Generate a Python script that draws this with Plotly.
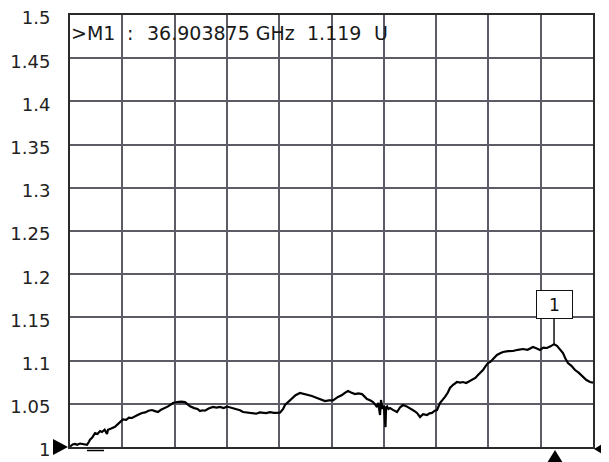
import plotly.graph_objects as go

# ---- data ----
freq_ghz = [
    29.500, 29.540, 29.576, 29.610, 29.653, 29.700, 29.760, 29.790, 29.806, 29.840,
    29.882, 29.920, 29.960, 29.989, 30.030, 30.066, 30.081, 30.130, 30.188, 30.240,
    30.280, 30.311, 30.360, 30.400, 30.448, 30.500, 30.550, 30.601, 30.650, 30.700,
    30.754, 30.800, 30.846, 30.900, 30.953, 31.000, 31.040, 31.076,
    31.137, 31.200, 31.259, 31.300, 31.336, 31.400, 31.450, 31.489, 31.530, 31.565,
    31.620, 31.687, 31.740, 31.794, 31.850, 31.902, 31.960, 32.010, 32.054, 32.100,
    32.146, 32.200, 32.250, 32.299, 32.350, 32.400, 32.452, 32.500, 32.559, 32.620,
    32.712,
    32.760, 32.789, 32.840, 32.896, 32.950, 33.018, 33.080, 33.141, 33.200, 33.278,
    33.340, 33.401, 33.460, 33.523, 33.600, 33.661, 33.710, 33.752, 33.800, 33.859,
    33.910, 33.966, 34.010, 34.043, 34.090, 34.135, 34.170, 34.196, 34.215, 34.230,
    34.242, 34.257, 34.280, 34.300, 34.318, 34.326, 34.334, 34.350, 34.370, 34.395,
    34.440, 34.502, 34.550, 34.594, 34.650, 34.701, 34.760, 34.808, 34.854, 34.900,
    34.961, 35.000, 35.037, 35.080, 35.114, 35.159, 35.200, 35.236, 35.280, 35.312,
    35.360, 35.419, 35.470, 35.511, 35.560, 35.588, 35.620, 35.664, 35.700, 35.741,
    35.780, 35.817, 35.860, 35.894, 35.930, 35.955, 36.000, 36.031, 36.080, 36.123,
    36.200, 36.276, 36.350, 36.429, 36.500, 36.582, 36.640, 36.689, 36.740, 36.796,
    36.850, 36.904, 36.949, 37.000, 37.041, 37.080, 37.117, 37.170, 37.225, 37.280,
    37.347, 37.400, 37.454, 37.500,
]
swr = [
    1.0005, 1.0030, 1.0035, 1.0025, 1.0040, 1.0030, 1.0025, 1.0060, 1.0085, 1.0110,
    1.0160, 1.0150, 1.0185, 1.0174, 1.0200, 1.0150, 1.0200, 1.0215, 1.0235, 1.0270,
    1.0300, 1.0320, 1.0315, 1.0340, 1.0336, 1.0360, 1.0375, 1.0394, 1.0400, 1.0420,
    1.0428, 1.0415, 1.0405, 1.0435, 1.0451, 1.0470, 1.0490, 1.0509,
    1.0521, 1.0525, 1.0520, 1.0490, 1.0470, 1.0450, 1.0440, 1.0415, 1.0425, 1.0420,
    1.0445, 1.0463, 1.0455, 1.0463, 1.0450, 1.0468, 1.0455, 1.0450, 1.0440, 1.0425,
    1.0405, 1.0400, 1.0394, 1.0392, 1.0385, 1.0400, 1.0394, 1.0392, 1.0403, 1.0395,
    1.0398,
    1.0440, 1.0486, 1.0520, 1.0556, 1.0600, 1.0625, 1.0615, 1.0602, 1.0590, 1.0567,
    1.0550, 1.0532, 1.0540, 1.0540, 1.0580, 1.0602, 1.0630, 1.0648, 1.0630, 1.0613,
    1.0620, 1.0613, 1.0580, 1.0556, 1.0540, 1.0521, 1.0490, 1.0463, 1.0510, 1.0420,
    1.0370, 1.0544, 1.0440, 1.0480, 1.0300, 1.0230, 1.0460, 1.0470, 1.0440, 1.0451,
    1.0430, 1.0405, 1.0460, 1.0486, 1.0470, 1.0451, 1.0420, 1.0394, 1.0347, 1.0380,
    1.0370, 1.0390, 1.0394, 1.0420, 1.0428, 1.0509, 1.0540, 1.0579, 1.0630, 1.0683,
    1.0720, 1.0752, 1.0745, 1.0752, 1.0740, 1.0752, 1.0765, 1.0775, 1.0800, 1.0833,
    1.0860, 1.0891, 1.0940, 1.0972, 1.0985, 1.1007, 1.1040, 1.1065, 1.1085, 1.1100,
    1.1110, 1.1111, 1.1125, 1.1134, 1.1125, 1.1157, 1.1140, 1.1123, 1.1150, 1.1146,
    1.1165, 1.1190, 1.1170, 1.1120, 1.1088, 1.1020, 1.0972, 1.0940, 1.0891, 1.0860,
    1.0810, 1.0775, 1.0752, 1.0745,
]

x_start, x_stop = 29.5, 37.5
y_ticks = [1.0, 1.05, 1.1, 1.15, 1.2, 1.25, 1.3, 1.35, 1.4, 1.45, 1.5]
y_tick_text = ["1", "1.05", "1.1", "1.15", "1.2", "1.25", "1.3", "1.35", "1.4", "1.45", "1.5"]
marker_freq = 36.903875
marker_val = 1.119
marker_label = "1"
readout_parts = [">M1", ":", "36.903875 GHz", "1.119", "U"]

# ---- figure (page body has an 8px margin, so the figure starts at 8,8) ----
OFF = 8
W, H = 609 - OFF, 462 - OFF
L, R, T, B = 70 - OFF, 609 - 593, 15 - OFF, 462 - 447
pw, ph = W - L - R, H - T - B

def px_x(p):  # screenshot pixel -> paper fraction
    return (p - OFF - L) / pw

def px_y(p):
    return (H - B - (p - OFF)) / ph

fig = go.Figure()
fig.add_trace(go.Scatter(
    x=freq_ghz, y=swr, mode="lines",
    line=dict(color="#000000", width=2.2),
    hoverinfo="skip", showlegend=False,
))

fig.update_layout(
    width=W, height=H,
    margin=dict(l=L, r=R, t=T, b=B, pad=0, autoexpand=False),
    paper_bgcolor="white", plot_bgcolor="white",
    showlegend=False,
    font=dict(family="DejaVu Sans", color="#222222"),
)
fig.update_xaxes(
    range=[x_start, x_stop], tick0=x_start, dtick=(x_stop - x_start) / 10,
    showticklabels=False, ticks="", showgrid=True, gridcolor="#5c5c66", gridwidth=1.6,
    showline=True, mirror=True, linecolor="#2a2a2a", linewidth=2, zeroline=False,
    automargin=False,
)
fig.update_yaxes(
    range=[1.0, 1.5], tickvals=y_ticks, ticktext=y_tick_text,
    showgrid=True, gridcolor="#5c5c66", gridwidth=1.6,
    showline=True, mirror=True, linecolor="#2a2a2a", linewidth=2, zeroline=False,
    automargin=False, ticklabeloverflow="allow", ticklabelshift=3,
    ticks="", ticklabelstandoff=14, tickfont=dict(family="DejaVu Sans", size=18, color="#222222"),
)

# readout text at top
readout_px = [69, 125, 145, 305, 372]
for txt, p in zip(readout_parts, readout_px):
    fig.add_annotation(
        text=txt, xref="paper", yref="paper", x=px_x(p), y=px_y(33),
        xanchor="left", yanchor="middle", showarrow=False,
        font=dict(family="DejaVu Sans", size=19, color="#1a1a1a"),
    )

# marker box with leader line
fig.add_annotation(
    x=marker_freq, y=marker_val, xref="x", yref="y",
    text=marker_label, showarrow=True, arrowhead=0, arrowwidth=1.5, arrowcolor="#111111",
    ax=0, ay=-40, bordercolor="#111111", borderwidth=1, borderpad=0,
    bgcolor="white", width=35, height=27,
    font=dict(family="DejaVu Sans", size=17, color="#111111"),
)

# reference / marker triangles and small dash
shapes = [
    dict(type="path", xref="paper", yref="paper",
         path=f"M {px_x(53)},{px_y(439)} L {px_x(68)},{px_y(447)} L {px_x(53)},{px_y(455)} Z",
         fillcolor="black", line=dict(width=0)),
    dict(type="path", xref="paper", yref="paper",
         path=f"M {px_x(609)},{px_y(440)} L {px_x(594)},{px_y(449)} L {px_x(609)},{px_y(458)} Z",
         fillcolor="black", line=dict(width=0)),
    dict(type="path", xref="paper", yref="paper",
         path=f"M {px_x(547)},{px_y(463)} L {px_x(555)},{px_y(450)} L {px_x(563)},{px_y(463)} Z",
         fillcolor="black", line=dict(width=0)),
    dict(type="line", xref="paper", yref="paper",
         x0=px_x(87), x1=px_x(104), y0=px_y(450.5), y1=px_y(450.5),
         line=dict(color="black", width=1.5)),
]
fig.update_layout(shapes=shapes)

fig.write_html("out.html")
